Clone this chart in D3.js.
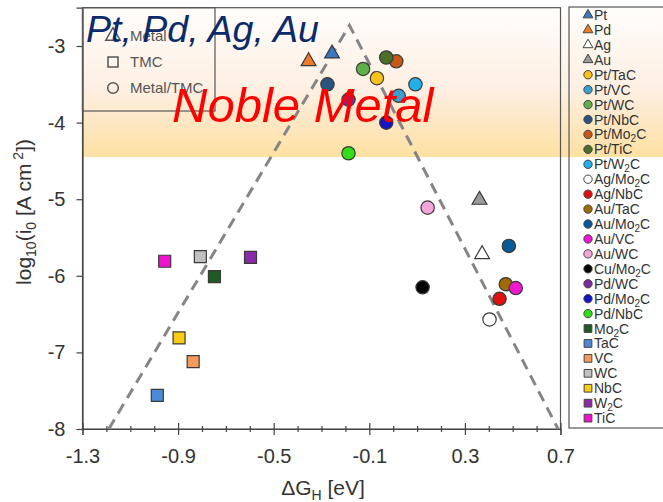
<!DOCTYPE html>
<html>
<head>
<meta charset="utf-8">
<script src="https://cdn.jsdelivr.net/npm/d3@7"></script>
<style>
  body { margin: 0; background: #fff; }
  svg { display: block; font-family: "Liberation Sans", Arial, sans-serif; }
</style>
</head>
<body>
<svg id="chart" width="663" height="502"></svg>
<script>
// values
const names = ['Pt', 'Pd', 'Ag', 'Au', 'Pt/TaC', 'Pt/VC', 'Pt/WC', 'Pt/NbC', 'Pt/Mo2C', 'Pt/TiC', 'Pt/W2C',
  'Ag/Mo2C', 'Ag/NbC', 'Au/TaC', 'Au/Mo2C', 'Au/VC', 'Au/WC', 'Cu/Mo2C', 'Pd/WC', 'Pd/Mo2C', 'Pd/NbC',
  'Mo2C', 'TaC', 'VC', 'WC', 'NbC', 'W2C', 'TiC'];
const kinds = ['metal', 'metal', 'metal', 'metal', 'mix', 'mix', 'mix', 'mix', 'mix', 'mix', 'mix',
  'mix', 'mix', 'mix', 'mix', 'mix', 'mix', 'mix', 'mix', 'mix', 'mix',
  'tmc', 'tmc', 'tmc', 'tmc', 'tmc', 'tmc', 'tmc'];
const dG = [-0.256, -0.354, 0.372, 0.361, -0.068, 0.023, -0.126, -0.275, 0.013, -0.029, 0.093,
  0.403, 0.445, 0.471, 0.484, 0.513, 0.144, 0.123, -0.187, -0.029, -0.187,
  -0.748, -0.987, -0.837, -0.807, -0.896, -0.597, -0.956];
const logI = [-3.1, -3.2, -5.72, -5.01, -3.42, -3.65, -3.3, -3.5, -3.2, -3.15, -3.5,
  -6.57, -6.3, -6.11, -5.61, -6.16, -5.11, -6.15, -3.7, -4.0, -4.4,
  -6.01, -7.56, -7.12, -5.75, -6.81, -5.76, -5.81];
const palette = ['#3b78c0', '#f07c2a', '#ffffff', '#9a9a9a', '#f7c21a', '#3ba0d0', '#5fb04a', '#2a5480', '#c8581a', '#4a7028', '#22b0e8',
  '#ffffff', '#e01010', '#a06a08', '#0a5a98', '#ee18d0', '#f4a6d8', '#000000', '#7a2aa0', '#1414c8', '#33dd1a',
  '#1f5a22', '#4a8ad8', '#f59a5a', '#c0c0c0', '#f8cc10', '#8a2aa8', '#f010d0'];

const volcano = [[-1.19, -8], [-0.183, -2.73], [0.69, -8]];
const xMajor = [-1.3, -0.9, -0.5, -0.1, 0.3, 0.7];
const xMinor = d3.range(-12, 7).map(i => i / 10).filter(v => !xMajor.some(m => Math.abs(m - v) < 1e-9));
const yMajor = [-3, -4, -5, -6, -7, -8];
const nobleTop = -2.5, nobleBottom = -4.45;

const svg = d3.select('#chart');
const x = d3.scaleLinear().domain([-1.3, 0.7]).range([82.5, 560.5]);
const y = d3.scaleLinear().domain([-8, -2.5]).range([429, 7.7]);

const shapeOf = k => k === 'metal' ? d3.symbolTriangle : (k === 'tmc' ? d3.symbolSquare : d3.symbolCircle);
const points = names.map((n, i) => ({ name: n, kind: kinds[i], x: dG[i], y: logI[i], colour: palette[i] }));

// noble metal band
const grad = svg.append('defs').append('linearGradient').attr('id', 'band')
  .attr('x1', 0).attr('y1', 0).attr('x2', 0).attr('y2', 1);
grad.append('stop').attr('offset', 0).attr('stop-color', '#fffdfb');
grad.append('stop').attr('offset', 0.55).attr('stop-color', '#fdefe2');
grad.append('stop').attr('offset', 1).attr('stop-color', '#fde0a2');
svg.append('rect')
  .attr('x', x(-1.3)).attr('y', y(nobleTop))
  .attr('width', 663 - x(-1.3)).attr('height', y(nobleBottom) - y(nobleTop))
  .attr('fill', 'url(#band)');

// frame
svg.append('rect')
  .attr('x', x(-1.3)).attr('y', y(-2.5))
  .attr('width', x(0.7) - x(-1.3)).attr('height', y(-8) - y(-2.5))
  .attr('fill', 'none').attr('stroke', '#555').attr('stroke-width', 1.2);

// axes
const axisStyle = g => {
  g.select('.domain').attr('stroke', '#444').attr('stroke-width', 1.2);
  g.selectAll('.tick line').attr('stroke', '#444').attr('stroke-width', 1.2);
  g.selectAll('.tick text').attr('fill', '#333').style('font-size', '20px')
    .style('font-family', '"Liberation Sans", Arial, sans-serif');
};
const gx = svg.append('g').attr('transform', `translate(0,${y(-8)})`)
  .call(d3.axisBottom(x).tickValues(xMajor).tickSize(6).tickFormat(d => d.toFixed(1)))
  .call(axisStyle);
gx.selectAll('.tick line').attr('y1', -6);
gx.selectAll('.tick text').attr('y', 20);
const gxm = svg.append('g').attr('transform', `translate(0,${y(-8)})`)
  .call(d3.axisBottom(x).tickValues(xMinor).tickSize(3).tickFormat(''))
  .call(axisStyle);
gxm.select('.domain').remove();
gxm.selectAll('.tick line').attr('y1', -3);

const gy = svg.append('g').attr('transform', `translate(${x(-1.3)},0)`)
  .call(d3.axisLeft(y).tickValues(yMajor).tickSize(6).tickFormat(d => String(d)))
  .call(axisStyle);
gy.selectAll('.tick text').attr('x', -17);

// axis titles
const xt = svg.append('text').attr('x', 323).attr('y', 495).attr('text-anchor', 'middle')
  .attr('fill', '#333').style('font-size', '21px');
xt.append('tspan').text('ΔG');
xt.append('tspan').attr('dy', 5).style('font-size', '14px').text('H');
xt.append('tspan').attr('dy', -5).text(' [eV]');

const yt = svg.append('text').attr('transform', 'translate(31,212) rotate(-90)').attr('text-anchor', 'middle')
  .attr('fill', '#333').style('font-size', '21px');
yt.append('tspan').text('log');
yt.append('tspan').attr('dy', 5).style('font-size', '14px').text('10');
yt.append('tspan').attr('dy', -5).text('(i');
yt.append('tspan').attr('dy', 5).style('font-size', '14px').text('0');
yt.append('tspan').attr('dy', -5).text(' [A cm');
yt.append('tspan').attr('dy', -8).style('font-size', '14px').text(' 2');
yt.append('tspan').attr('dy', 8).text('])');

// inset shape legend
svg.append('rect').attr('x', x(-1.3)).attr('y', y(-2.5))
  .attr('width', 215 - x(-1.3)).attr('height', 111 - y(-2.5))
  .attr('fill', 'none').attr('stroke', '#555').attr('stroke-width', 1.2);
const shapeKeys = [['metal', 'Metal'], ['tmc', 'TMC'], ['mix', 'Metal/TMC']];
shapeKeys.forEach(([k, label], i) => {
  const cy = 36 + i * 26;
  svg.append('path').attr('transform', `translate(113,${cy})`)
    .attr('d', d3.symbol(shapeOf(k), k === 'tmc' ? 100 : 90)())
    .attr('fill', 'none').attr('stroke', '#555').attr('stroke-width', 1.5);
  svg.append('text').attr('x', 130).attr('y', cy + 5).attr('fill', '#555')
    .style('font-size', '15px').text(label);
});

// volcano
svg.append('path').datum(volcano)
  .attr('d', d3.line().x(d => x(d[0])).y(d => y(d[1])))
  .attr('fill', 'none').attr('stroke', '#858585').attr('stroke-width', 3)
  .attr('stroke-dasharray', '11,7');

// points
svg.append('g').selectAll('path').data(points).join('path')
  .attr('transform', d => `translate(${x(d.x)},${y(d.y)})`)
  .attr('d', d => d3.symbol(shapeOf(d.kind), d.kind === 'metal' ? 95 : (d.kind === 'tmc' ? 144 : 140))())
  .attr('fill', d => d.colour).attr('stroke', '#3a3a3a').attr('stroke-width', 1.2);

// labels over the band
svg.append('text').attr('x', 172).attr('y', 122).attr('fill', '#ff0000')
  .style('font-size', '49px').style('font-style', 'italic').text('Noble Metal');
svg.append('text').attr('x', 86).attr('y', 42).attr('fill', '#0b2a6b')
  .style('font-size', '37.5px').style('font-style', 'italic').text('Pt, Pd, Ag, Au');

// series legend
svg.append('rect').attr('x', 569).attr('y', 7).attr('width', 120).attr('height', 421)
  .attr('fill', 'none').attr('stroke', '#555').attr('stroke-width', 1.2);
const leg = svg.append('g').selectAll('g').data(points).join('g')
  .attr('transform', (d, i) => `translate(588,${15 + i * 14.93})`);
leg.append('path')
  .attr('d', d => d3.symbol(shapeOf(d.kind), d.kind === 'metal' ? 42 : (d.kind === 'tmc' ? 60 : 55))())
  .attr('fill', d => d.colour).attr('stroke', '#444').attr('stroke-width', 1);
leg.append('text').attr('x', 6).attr('y', 5).attr('fill', '#333').style('font-size', '14px')
  .each(function (d) {
    const t = d3.select(this);
    const parts = d.name.split('2');
    parts.forEach((p, j) => {
      if (j > 0) {
        t.append('tspan').attr('dy', 3).style('font-size', '10px').text('2');
        t.append('tspan').attr('dy', -3).text(p);
      } else t.append('tspan').text(p);
    });
  });
</script>
</body>
</html>
